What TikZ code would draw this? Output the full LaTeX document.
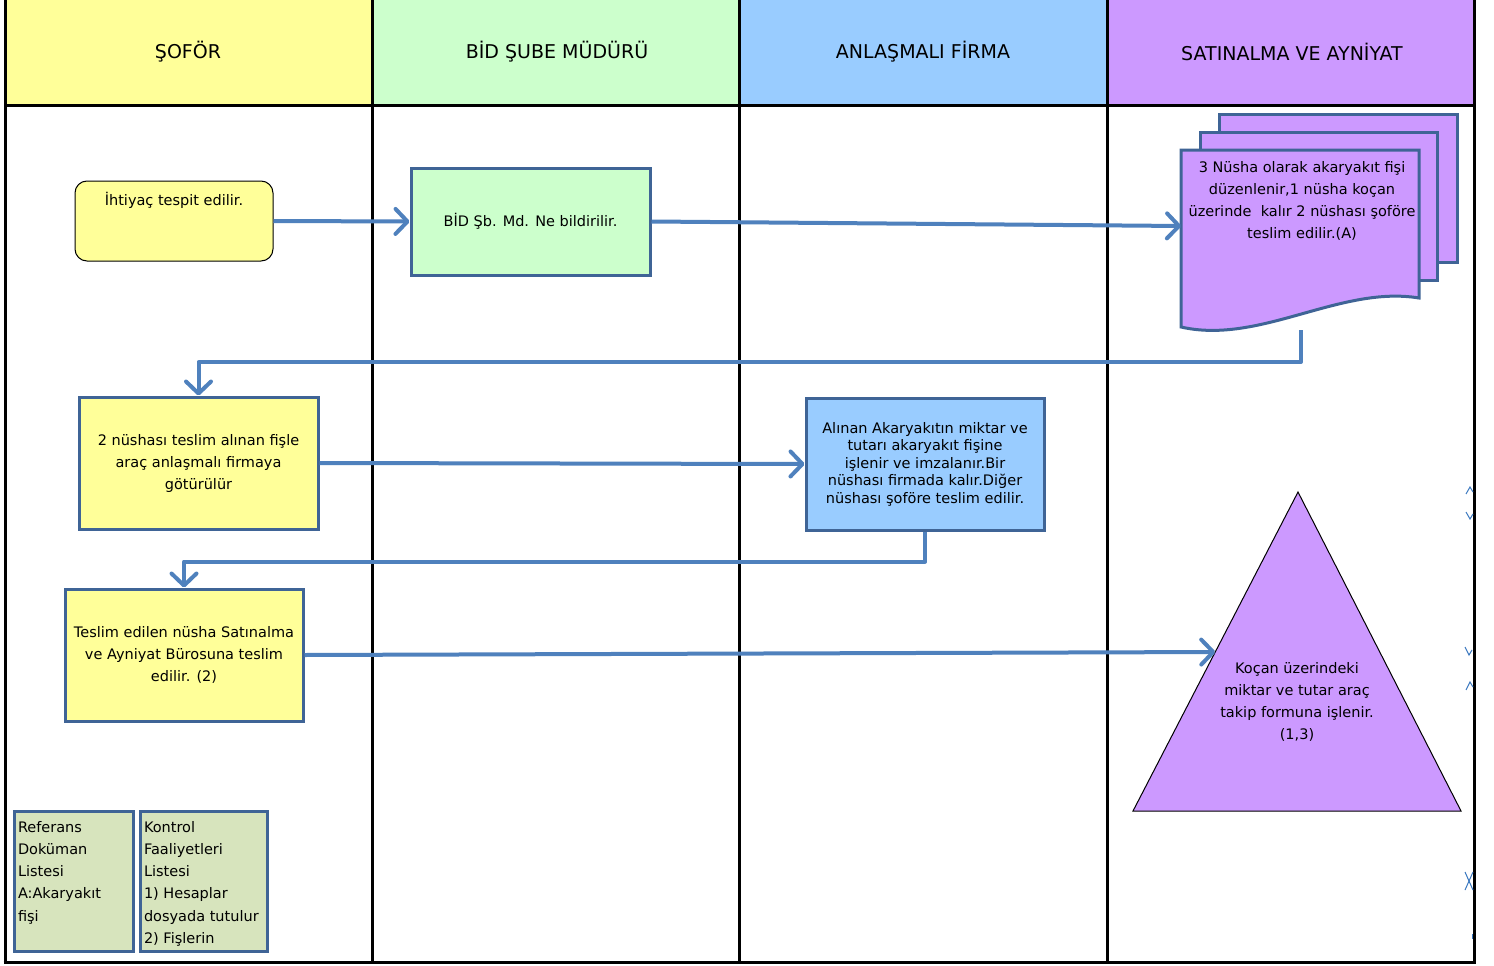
\documentclass[tikz,border=0pt]{standalone}
\usepackage{fontspec}
\setmainfont{DejaVu Sans}
\usetikzlibrary{arrows.meta,calc}

\definecolor{laneYellow}{HTML}{FFFF99}
\definecolor{laneGreen}{HTML}{CCFFCC}
\definecolor{laneBlue}{HTML}{99CCFF}
\definecolor{lanePurple}{HTML}{CC99FF}
\definecolor{boxEdge}{HTML}{3F6496}
\definecolor{flow}{HTML}{4F81BD}
\definecolor{refFill}{HTML}{D7E4BD}
\definecolor{markBlue}{HTML}{3A78C0}

\begin{document}
\begin{tikzpicture}[x=1pt,y=-1pt,
  lane/.style={draw=black, line width=3pt},
  hdr/.style={font=\fontsize{19}{22}\selectfont},
  body/.style={font=\fontsize{14.5}{22}\selectfont, align=center},
  stepbox/.style={draw=boxEdge, line width=3pt, inner sep=0pt, body},
  sheet/.style={draw=boxEdge, line width=3pt, fill=lanePurple, inner sep=0pt},
  refbox/.style={draw=boxEdge, line width=3pt, fill=refFill, inner sep=0pt,
                 font=\fontsize{14.5}{22.3}\selectfont},
  flowline/.style={draw=flow, line width=4pt, line join=round,
                   -{Straight Barb[length=12pt,width=25pt,round]}},
  edgemark/.style={draw=markBlue, line width=1pt}
]
% canvas
\fill[white] (0,0) rectangle (1494,966);
\useasboundingbox (0,0) rectangle (1494,966);

% lane headers
\fill[laneYellow] (5,0) rectangle (372,105);
\fill[laneGreen]  (372,0) rectangle (739,105);
\fill[laneBlue]   (739,0) rectangle (1107,105);
\fill[lanePurple] (1107,0) rectangle (1474,105);
\node[hdr] (hSofor)  at (188,52)  {ŞOFÖR};
\node[hdr] (hBid)    at (557,52)  {BİD ŞUBE MÜDÜRÜ};
\node[hdr] (hFirma)  at (923,52)  {ANLAŞMALI FİRMA};
\node[hdr] (hSatin)  at (1292,52) {SATINALMA VE AYNİYAT};

% lane grid
\draw[lane] (5,0) -- (5,963.5);
\draw[lane] (372,0) -- (372,963.5);
\draw[lane] (739,0) -- (739,963.5);
\draw[lane] (1107,0) -- (1107,963.5);
\draw[lane] (1474,0) -- (1474,963.5);
\draw[lane] (3.5,962) -- (1475.5,962);
\draw[lane] (5,105) -- (1474,105);

% process steps
\node[stepbox, draw=black, line width=1pt, fill=laneYellow, rounded corners=12pt,
      minimum width=198pt, minimum height=80pt] (need) at (174,221)
      {\parbox[c][80pt][t]{198pt}{\centering\vspace{11pt}İhtiyaç tespit edilir.}};

\node[stepbox, fill=laneGreen, minimum width=239pt, minimum height=107pt]
      (notify) at (530.5,221.5) {BİD Şb. Md. Ne bildirilir.};

\node[stepbox, fill=laneYellow, minimum width=239pt, minimum height=132pt]
      (carry) at (198.5,463) {2 nüshası teslim alınan fişle\\araç anlaşmalı firmaya\\götürülür};

\node[stepbox, fill=laneBlue, minimum width=238pt, minimum height=132pt,
      font=\fontsize{14.5}{17.5}\selectfont]
      (firm) at (925,464) {Alınan Akaryakıtın miktar ve\\tutarı akaryakıt fişine\\işlenir ve imzalanır.Bir\\nüshası firmada kalır.Diğer\\nüshası şoföre teslim edilir.};

\node[stepbox, fill=laneYellow, minimum width=238pt, minimum height=132pt]
      (deliver) at (184,655) {Teslim edilen nüsha Satınalma\\ve Ayniyat Bürosuna teslim\\edilir. (2)};

% multi-copy document
\node[sheet, minimum width=238pt, minimum height=148pt] (sheetBack) at (1338,188) {};
\node[sheet, minimum width=237pt, minimum height=148pt] (sheetMid) at (1318.5,206) {};
\draw[sheet] (1181,150) -- (1419,150) -- (1419,298)
      .. controls (1340,285) and (1260,345) .. (1181,327) -- cycle;
\node[body] (docText) at (1302,200.5)
      {3 Nüsha olarak akaryakıt fişi\\düzenlenir,1 nüsha koçan\\üzerinde\ \ kalır 2 nüshası şoföre\\teslim edilir.(A)};
\coordinate (docIn) at (1181,226);
\coordinate (docOut) at (1301,330);

% record step (triangle)
\coordinate (triTop) at (1298,492);
\coordinate (triLeft) at (1133,811);
\coordinate (triRight) at (1461,811);
\draw[black, line width=1pt, fill=lanePurple] (triTop) -- (triRight) -- (triLeft) -- cycle;
\node[body] (record) at (1297,701.5)
      {Koçan üzerindeki\\miktar ve tutar araç\\takip formuna işlenir.\\(1,3)};
\coordinate (triIn) at ($(triTop)!0.5016!(triLeft)$);

% flow
\draw[flowline] (need.east) -- (notify.west);
\draw[flowline] (notify.east) -- (docIn);
\draw[flowline] (docOut) -- ++(0,32) -| (carry.north);
\draw[flowline] (carry.east) -- (firm.west);
\draw[flowline] (firm.south) -- ++(0,30) -| (deliver.north);
\draw[flowline] (deliver.east) -- (triIn);

% reference lists
\node[refbox, minimum width=119pt, minimum height=140pt] (refDocs) at (73.5,881)
      {\parbox[c][140pt][t]{111pt}{\raggedright\vspace{10pt}Referans\\Doküman\\Listesi\\A:Akaryakıt\\fişi}};
\node[refbox, minimum width=127pt, minimum height=140pt] (ctrlList) at (203.5,881)
      {\parbox[c][140pt][t]{119pt}{\raggedright\vspace{10pt}Kontrol\\Faaliyetleri\\Listesi\\1) Hesaplar\\dosyada tutulur\\2) Fişlerin}};

% clipped marks along the right border
\draw[edgemark] (1466,494) -- (1470,487) -- (1473,492);
\draw[edgemark] (1466,512) -- (1470,519) -- (1473,514);
\draw[edgemark] (1465,647) -- (1469,655) -- (1472,650);
\draw[edgemark] (1466,690) -- (1470,682) -- (1473,687);
\draw[edgemark] (1465,872) -- (1473,890);
\draw[edgemark] (1465,890) -- (1473,872);
\fill[markBlue] (1471.5,934) rectangle (1473,939);
\end{tikzpicture}
\end{document}
